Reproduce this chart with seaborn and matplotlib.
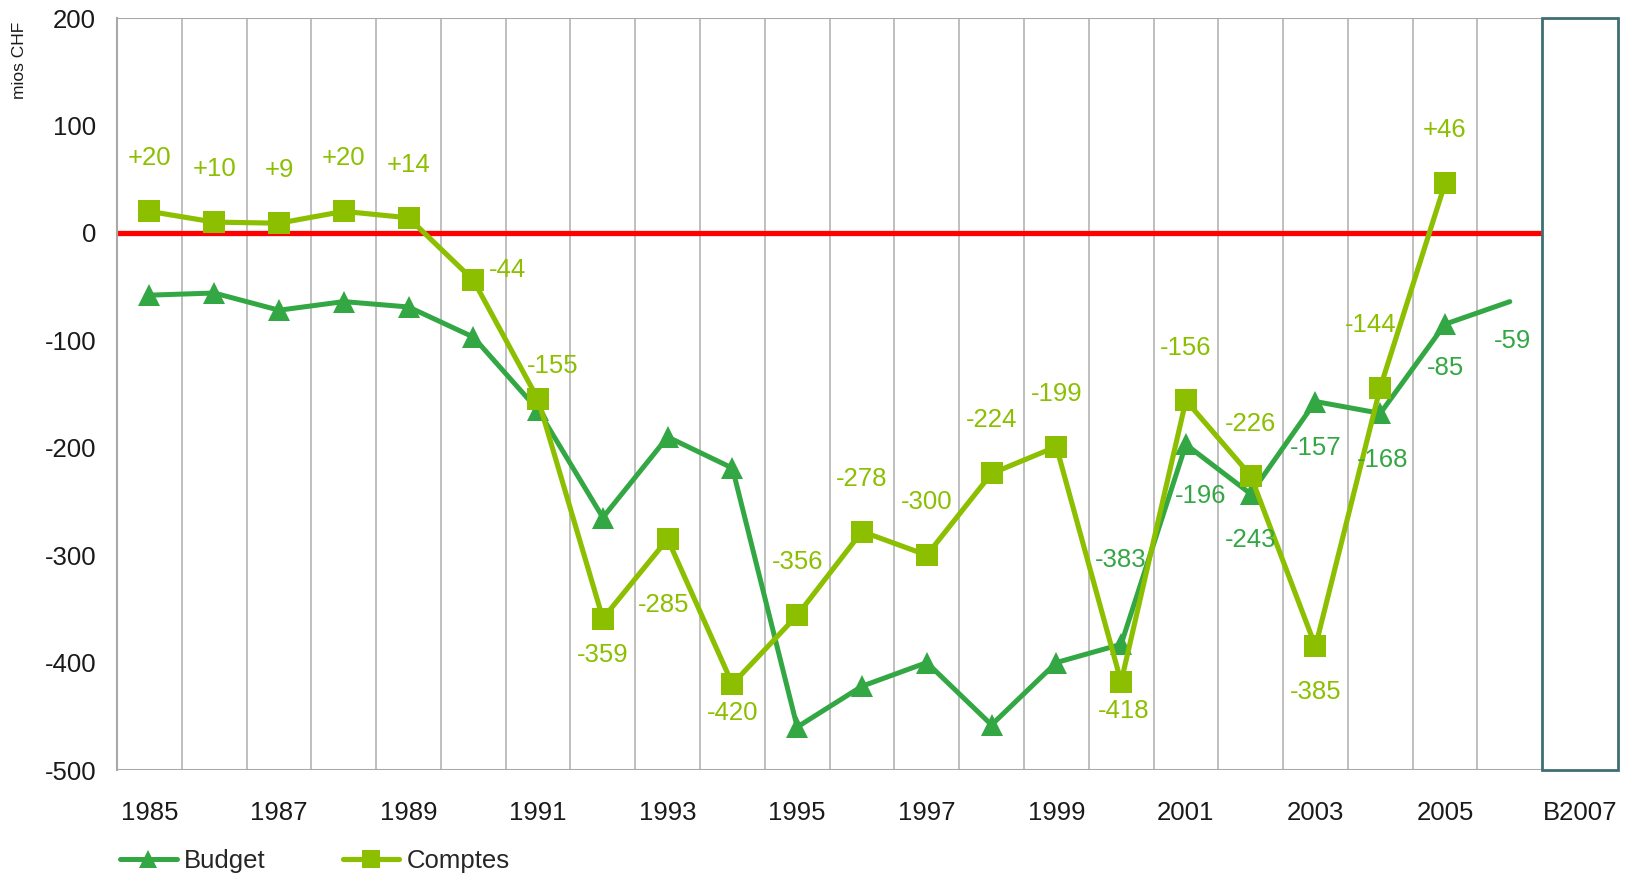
import matplotlib
matplotlib.use('Agg')
import matplotlib.pyplot as plt
import seaborn as sns
import pandas as pd
from matplotlib.patches import Rectangle

# Data (mios CHF)
years_budget = list(range(1985, 2007))
budget = [-58, -56, -72, -64, -69, -97, -165, -265, -190, -219, -460, -422,
          -400, -458, -400, -383, -197, -243, -157, -168, -85, -64]
budget_labels = {2000: '-383', 2001: '-196', 2002: '-243', 2003: '-157',
                 2004: '-168', 2005: '-85', 2006: '-59'}

years_comptes = list(range(1985, 2006))
comptes = [20, 10, 9, 20, 14, -44, -155, -359, -285, -420, -356, -278,
           -300, -224, -199, -418, -156, -226, -385, -144, 46]
comptes_labels = ['+20', '+10', '+9', '+20', '+14', '-44', '-155', '-359',
                  '-285', '-420', '-356', '-278', '-300', '-224', '-199',
                  '-418', '-156', '-226', '-385', '-144', '+46']

tick_years = list(range(1985, 2006, 2))
tick_labels = [str(y) for y in tick_years] + ['B2007']

# label placement (pixels from the point)
comptes_off = [(0, 53)] * 5 + [(34, 10), (15, 33), (0, -36), (-4, -66), (0, -29)] \
    + [(0, 53)] * 5 + [(3, -29), (0, 52), (0, 52), (0, -46), (-10, 63), (0, 53)]
budget_off = {2000: (0, 84), 2001: (15, -52), 2002: (0, -46), 2003: (0, -46),
              2004: (2, -47), 2005: (0, -44), 2006: (3, -39)}

BUDGET_C = '#33a744'
COMPTES_C = '#8cbf00'
FS = 18.5

sns.set_theme(style='white')
plt.rcParams['font.family'] = ['Liberation Sans', 'DejaVu Sans']
plt.rcParams['axes.unicode_minus'] = False

fig = plt.figure(figsize=(16.27, 8.75), dpi=100)
ax = fig.add_axes([117 / 1627, 1 - 770 / 875, 1501 / 1627, 752 / 875])

x_lo, x_hi = 1984.5, 2007.67
box_left = 2006.5

# vertical separators and frame
for xv in range(1985, 2006):
    ax.axvline(xv + 0.5, color='#b4b4b4', lw=1.2, zorder=1)
ax.hlines([200, -500], x_lo, box_left, color='#a8a8a8', lw=1.5, zorder=1)
ax.add_patch(Rectangle((box_left, -500), x_hi - box_left, 700, fill=False,
                       edgecolor='#3f6f72', lw=2, clip_on=False, zorder=3))
ax.hlines(0, x_lo, box_left, color='#ff0000', lw=3.8, zorder=2)

df_b = pd.DataFrame({'year': years_budget, 'value': budget})
df_c = pd.DataFrame({'year': years_comptes, 'value': comptes})

sns.lineplot(data=df_b, x='year', y='value', ax=ax, color=BUDGET_C, lw=3.6,
             marker='^', markersize=16, markeredgewidth=0,
             markevery=list(range(len(budget) - 1)), label='Budget', zorder=4)
sns.lineplot(data=df_c, x='year', y='value', ax=ax, color=COMPTES_C, lw=3.7,
             marker='s', markersize=16, markeredgewidth=0, label='Comptes', zorder=5)

for yr, v, lab, off in zip(years_comptes, comptes, comptes_labels, comptes_off):
    ax.annotate(lab, (yr, v), xytext=off, textcoords='offset pixels',
                ha='center', va='center', fontsize=FS, color=COMPTES_C, zorder=6)
for yr, v in zip(years_budget, budget):
    if yr in budget_labels:
        ax.annotate(budget_labels[yr], (yr, v), xytext=budget_off[yr],
                    textcoords='offset pixels', ha='center', va='center',
                    fontsize=FS, color=BUDGET_C, zorder=6)

ax.set_xlim(x_lo, x_hi)
ax.set_ylim(-500, 200)
ax.set_yticks(range(-500, 201, 100))
ax.set_xticks(tick_years + [(box_left + x_hi) / 2])
ax.set_xticklabels(tick_labels)
ax.tick_params(axis='x', length=0, pad=22, labelsize=FS, colors='#1a1a1a')
ax.tick_params(axis='y', length=0, pad=15, labelsize=FS, colors='#1a1a1a')
ax.set_xlabel('')
ax.set_ylabel('')
for s in ['top', 'right', 'bottom']:
    ax.spines[s].set_visible(False)
ax.spines['left'].set_color('#a8a8a8')
ax.spines['left'].set_linewidth(1.5)
ax.grid(False)

fig.text(20 / 1627, 1 - 60 / 875, 'mios CHF', rotation=90, ha='center',
         va='center', fontsize=12.5, color='#1a1a1a')

handles, labels = ax.get_legend_handles_labels()
ax.get_legend().remove()
fig.legend(handles, labels, loc='center left', bbox_to_anchor=(120 / 1627, 14 / 875),
           ncol=2, frameon=False, fontsize=FS, handlelength=2.2, handletextpad=0.3,
           columnspacing=3.0, borderpad=0, borderaxespad=0, markerscale=0.8)

fig.savefig('out.png', dpi=100)
